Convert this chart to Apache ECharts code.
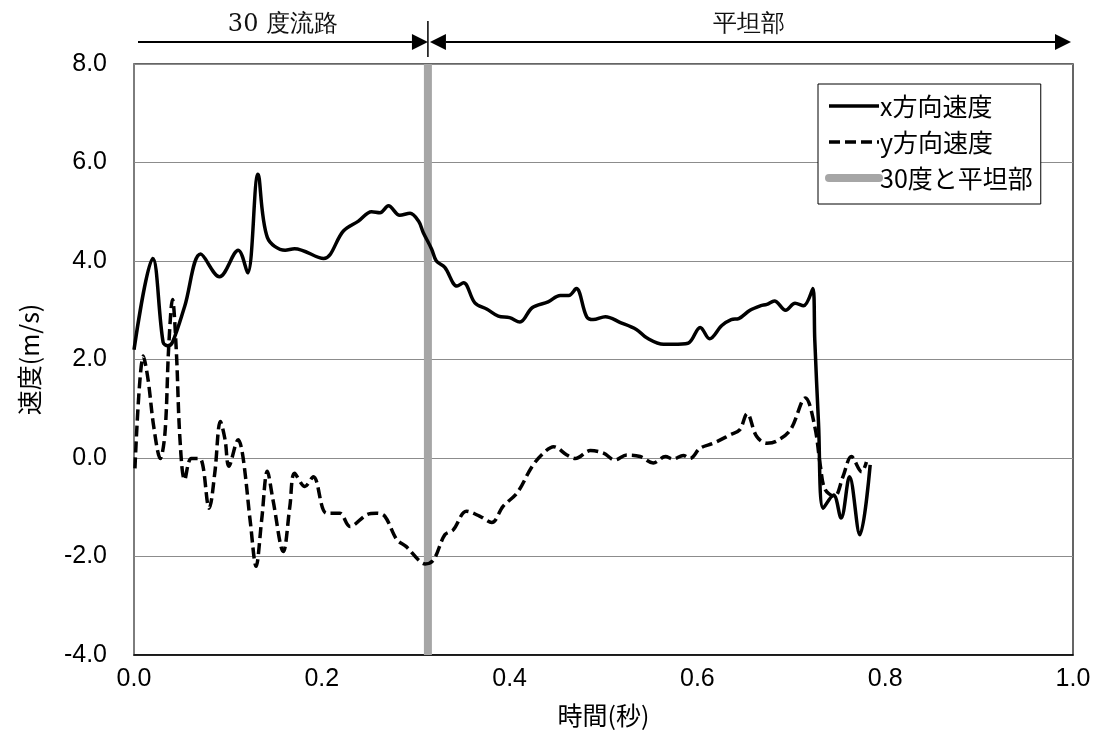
<!DOCTYPE html>
<html>
<head>
<meta charset="utf-8">
<script src="https://cdn.jsdelivr.net/npm/echarts@6/dist/echarts.min.js"></script>
<style>
  html, body { margin: 0; padding: 0; background: #fff; }
  #chart { width: 1101px; height: 744px; }
</style>
</head>
<body>
<div id="chart"></div>
<script>
// x方向速度 (time in s, velocity in m/s)
const timeX = [0.000, 0.020, 0.031, 0.036, 0.041, 0.054, 0.071, 0.091, 0.111, 0.121, 0.132, 0.142, 0.161, 0.171,
  0.202, 0.223, 0.239, 0.253, 0.262, 0.271, 0.283, 0.294, 0.303, 0.308, 0.317, 0.322, 0.331, 0.344, 0.351,
  0.363, 0.376, 0.388, 0.400, 0.411, 0.424, 0.441, 0.454, 0.463, 0.471, 0.482, 0.489, 0.502, 0.518, 0.535,
  0.546, 0.564, 0.574, 0.590, 0.603, 0.613, 0.626, 0.636, 0.644, 0.656, 0.667, 0.674, 0.682, 0.694, 0.704,
  0.713, 0.723, 0.725, 0.729, 0.734, 0.745, 0.753, 0.762, 0.773, 0.784];
const velX = [2.20, 4.05, 2.35, 2.28, 2.35, 3.08, 4.14, 3.68, 4.22, 3.76, 5.76, 4.48, 4.22, 4.25,
  4.05, 4.61, 4.81, 5.00, 4.98, 5.12, 4.93, 4.97, 4.81, 4.58, 4.24, 4.00, 3.87, 3.49, 3.56,
  3.15, 3.02, 2.88, 2.85, 2.76, 3.05, 3.17, 3.30, 3.30, 3.44, 2.87, 2.81, 2.87, 2.75, 2.61,
  2.44, 2.31, 2.31, 2.33, 2.65, 2.42, 2.69, 2.81, 2.83, 3.00, 3.09, 3.12, 3.19, 3.00, 3.14,
  3.09, 3.44, 2.40, 0.70, -1.02, -0.75, -1.22, -0.38, -1.56, -0.14];

// y方向速度
const timeY = [0.001, 0.010, 0.015, 0.021, 0.028, 0.033, 0.037, 0.041, 0.045, 0.049, 0.054, 0.061, 0.070,
  0.080, 0.086, 0.092, 0.097, 0.101, 0.111, 0.116, 0.124, 0.130, 0.136, 0.142, 0.148, 0.159, 0.166, 0.171,
  0.182, 0.191, 0.205, 0.219, 0.230, 0.248, 0.258, 0.267, 0.280, 0.290, 0.303, 0.310, 0.319, 0.331, 0.340,
  0.354, 0.368, 0.381, 0.393, 0.408, 0.424, 0.436, 0.447, 0.461, 0.470, 0.486, 0.500, 0.512, 0.525, 0.539,
  0.553, 0.566, 0.574, 0.585, 0.592, 0.603, 0.617, 0.635, 0.645, 0.653, 0.663, 0.674, 0.684, 0.699, 0.715,
  0.725, 0.731, 0.736, 0.746, 0.755, 0.764, 0.775, 0.780];
const velY = [-0.21, 2.07, 1.59, 0.64, -0.01, 0.51, 2.27, 3.22, 2.20, 0.37, -0.44, -0.01, -0.01,
  -1.02, -0.31, 0.74, 0.37, -0.17, 0.37, 0.03, -1.32, -2.20, -1.25, -0.27, -0.85, -1.90, -0.98, -0.31,
  -0.58, -0.38, -1.12, -1.12, -1.39, -1.15, -1.12, -1.18, -1.66, -1.80, -2.07, -2.15, -2.07, -1.56, -1.46,
  -1.08, -1.18, -1.31, -0.98, -0.71, -0.17, 0.10, 0.23, 0.06, -0.01, 0.15, 0.10, -0.04, 0.06, 0.03,
  -0.10, 0.03, -0.02, 0.05, -0.01, 0.20, 0.30, 0.47, 0.57, 0.90, 0.44, 0.30, 0.34, 0.57, 1.22,
  0.64, -0.17, -0.64, -0.78, -0.38, 0.03, -0.28, -0.08];

// boundary between the 30-degree channel and the flat section
const boundaryTime = 0.313;
const boundarySpan = [-4, 8];

// axes
const xRange = [0, 1];
const xStep = 0.2;
const yRange = [-4, 8];
const yStep = 2;

const seriesNames = ['x方向速度', 'y方向速度', '30度と平坦部'];
const sectionLabels = ['30 度流路', '平坦部'];

const zip = (a, b) => a.map((v, i) => [v, b[i]]);

const chart = echarts.init(document.getElementById('chart'), null, { renderer: 'canvas' });

const tickFont = { fontFamily: '"Liberation Sans", Arial, sans-serif', fontSize: 25, color: '#000' };
const cjkFont = '"Noto Sans CJK JP", "Noto Sans", sans-serif';

chart.setOption({
  animation: false,
  backgroundColor: '#fff',
  grid: {
    left: 134, right: 28, top: 64, bottom: 89,
    show: true, borderColor: '#333', borderWidth: 1.5, backgroundColor: 'transparent'
  },
  legend: {
    data: [
      { name: seriesNames[0] },
      { name: seriesNames[1] },
      { name: seriesNames[2], lineStyle: { cap: 'round' } }
    ],
    orient: 'vertical',
    left: 818, top: 84,
    padding: [9, 8, 13, 7],
    itemWidth: 50, itemHeight: 14, itemGap: 10,
    backgroundColor: '#fff',
    borderColor: '#000', borderWidth: 1, borderRadius: 0,
    itemStyle: { opacity: 0 },
    lineStyle: { width: 'inherit' },
    textStyle: { fontFamily: cjkFont, fontSize: 25, color: '#000', padding: [0, 0, 0, -4], lineHeight: 26 }
  },
  xAxis: {
    type: 'value',
    min: xRange[0], max: xRange[1], interval: xStep,
    name: '時間(秒)', nameLocation: 'middle', nameGap: 48,
    nameTextStyle: { fontFamily: cjkFont, fontSize: 25, color: '#000' },
    axisLine: { show: true, onZero: false, lineStyle: { color: '#000', width: 1.5 } },
    axisTick: { show: false },
    axisLabel: Object.assign({ margin: 12, formatter: v => v.toFixed(1) }, tickFont),
    splitLine: { show: false }
  },
  yAxis: {
    type: 'value',
    min: yRange[0], max: yRange[1], interval: yStep,
    name: '速度(m/s)', nameLocation: 'middle', nameGap: 92, nameRotate: 90,
    nameTextStyle: { fontFamily: cjkFont, fontSize: 25, color: '#000' },
    axisLine: { show: true, onZero: false, lineStyle: { color: '#868686', width: 1.5 } },
    axisTick: { show: false },
    axisLabel: Object.assign({ margin: 27, formatter: v => v.toFixed(1) }, tickFont),
    splitLine: { show: true, lineStyle: { color: '#8c8c8c', width: 1.2 } }
  },
  series: [
    {
      name: seriesNames[0], type: 'line', data: zip(timeX, velX),
      smooth: 0.35, symbol: 'none', z: 4,
      color: '#000',
      lineStyle: { color: '#000', width: 3.5 }
    },
    {
      name: seriesNames[1], type: 'line', data: zip(timeY, velY),
      smooth: 0.35, symbol: 'none', z: 3,
      color: '#000',
      lineStyle: { color: '#000', width: 3.5, type: [11, 5] }
    },
    {
      name: seriesNames[2], type: 'line',
      data: boundarySpan.map(v => [boundaryTime, v]),
      symbol: 'none', z: 2,
      color: '#a6a6a6',
      lineStyle: { color: '#a6a6a6', width: 8, cap: 'butt' }
    }
  ]
});

// section arrows above the plot, anchored to the axis scale
const pTop = chart.convertToPixel({ gridIndex: 0 }, [boundaryTime, yRange[1]]);
const pLeft = chart.convertToPixel({ gridIndex: 0 }, [xRange[0], yRange[1]]);
const pRight = chart.convertToPixel({ gridIndex: 0 }, [xRange[1], yRange[1]]);
const bx = pTop[0];
const ay = 42;
const head = 16, half = 8;
const x0 = pLeft[0] + 4, x1 = pRight[0] - 2;
const ink = '#000';
const headFont = '"DejaVu Serif", "Liberation Serif", serif';

chart.setOption({
  graphic: [
    { type: 'line', shape: { x1: x0, y1: ay, x2: bx - head, y2: ay }, style: { stroke: ink, lineWidth: 2 } },
    { type: 'polygon', shape: { points: [[bx - head, ay - half], [bx, ay], [bx - head, ay + half]] }, style: { fill: ink } },
    { type: 'line', shape: { x1: bx, y1: ay - 21, x2: bx, y2: ay + 15 }, style: { stroke: ink, lineWidth: 1.5 } },
    { type: 'polygon', shape: { points: [[bx + 2 + head, ay - half], [bx + 2, ay], [bx + 2 + head, ay + half]] }, style: { fill: ink } },
    { type: 'line', shape: { x1: bx + 2 + head, y1: ay, x2: x1 - head, y2: ay }, style: { stroke: ink, lineWidth: 2 } },
    { type: 'polygon', shape: { points: [[x1 - head, ay - half], [x1, ay], [x1 - head, ay + half]] }, style: { fill: ink } },
    { type: 'text', x: (x0 + bx) / 2, y: 25, style: { text: sectionLabels[0], font: '24px ' + headFont, fill: '#111', align: 'center', verticalAlign: 'middle' } },
    { type: 'text', x: (bx + x1) / 2, y: 25, style: { text: sectionLabels[1], font: '24px ' + headFont, fill: '#111', align: 'center', verticalAlign: 'middle' } }
  ]
});
</script>
</body>
</html>
